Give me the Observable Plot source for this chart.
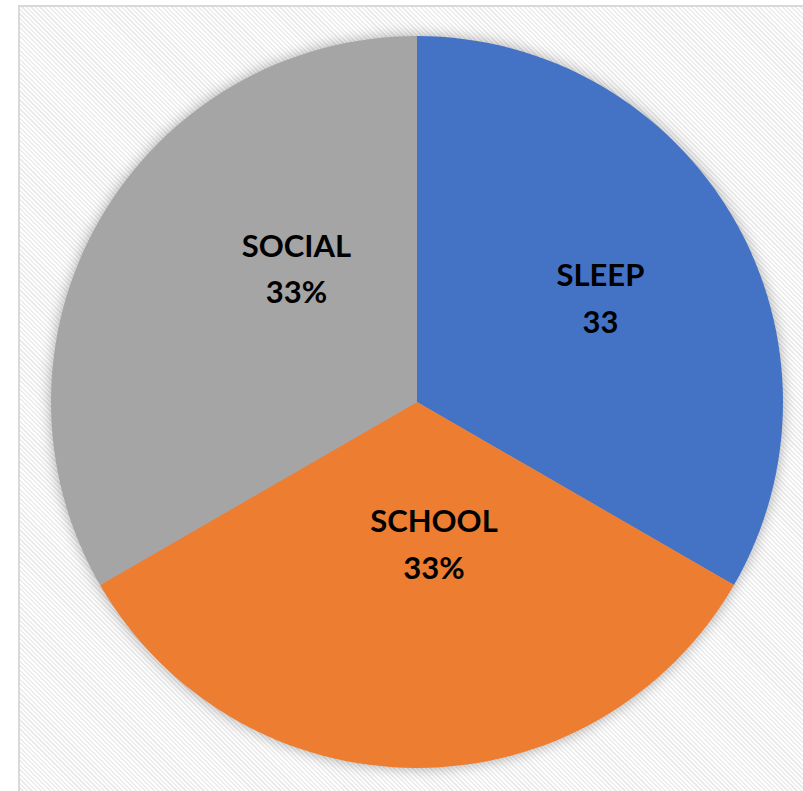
<!DOCTYPE html>
<html>
<head>
<meta charset="utf-8">
<script src="https://cdn.jsdelivr.net/npm/d3@7"></script>
<script src="https://cdn.jsdelivr.net/npm/@observablehq/plot@0.6"></script>
<style>
  html, body { margin: 0; padding: 0; background: #ffffff; }
  #wrap { position: relative; width: 803px; height: 791px; overflow: hidden; }
  #frame {
    position: absolute; left: 18px; top: 5px; width: 820px; height: 820px;
    box-sizing: border-box; border: 2px solid #d9d9d9;
    background: repeating-linear-gradient(45deg, #ffffff 0px, #ffffff 1.6px, #ececec 1.6px, #ececec 3.2px);
  }
  #chart { position: absolute; left: 0; top: 0; }
</style>
</head>
<body>
<div id="wrap">
  <div id="frame"></div>
  <div id="chart"></div>
</div>
<script>
// Data
const categories = ["SLEEP", "SCHOOL", "SOCIAL"];
const values = [33, 33, 33];
const labelTexts = ["SLEEP\n33", "SCHOOL\n33%", "SOCIAL\n33%"];
const colors = ["#4472C4", "#ED7D31", "#A5A5A5"];

// Table built from arrays
const data = categories.map((c, i) => ({category: c, value: values[i], label: labelTexts[i]}));

// Label placement (angle in degrees clockwise from top, radius as fraction of pie radius)
const labelPlacement = [[59.5, 0.58], [173.2, 0.38], [318.6, 0.50]];
const labelData = data.map((d, i) => {
  const a = labelPlacement[i][0] * Math.PI / 180, r = labelPlacement[i][1];
  return {...d, lx: r * Math.sin(a), ly: r * Math.cos(a)};
});

const pieMark = (index, scales, vals, dimensions, context) => {
  const cx = scales.x(0), cy = scales.y(0);
  const R = Math.abs(scales.x(1) - scales.x(0));
  const arcs = d3.pie().sort(null).value(d => d.value)(data);
  const arc = d3.arc().innerRadius(0).outerRadius(R);
  const g = d3.create("svg:g")
    .attr("transform", `translate(${cx},${cy})`)
    .style("filter", "drop-shadow(0px 0px 7px rgba(0,0,0,0.32))");
  g.selectAll("path").data(arcs).join("path")
    .attr("d", arc)
    .attr("fill", d => scales.color(d.data.category));
  return g.node();
};

const chart = Plot.plot({
  width: 803,
  height: 791,
  margin: 0,
  x: {domain: [-1, 1], range: [51, 783], axis: null},
  y: {domain: [-1, 1], range: [768, 36], axis: null},
  color: {domain: categories, range: colors},
  style: {background: "transparent", overflow: "visible"},
  marks: [
    pieMark,
    Plot.text(labelData, {
      x: "lx", y: "ly", text: "label",
      fill: "#000000",
      fontSize: 31, fontWeight: "bold",
      fontFamily: "Lato",
      lineHeight: 1.5,
      textAnchor: "middle"
    })
  ]
});
document.getElementById("chart").appendChild(chart);
</script>
</body>
</html>
